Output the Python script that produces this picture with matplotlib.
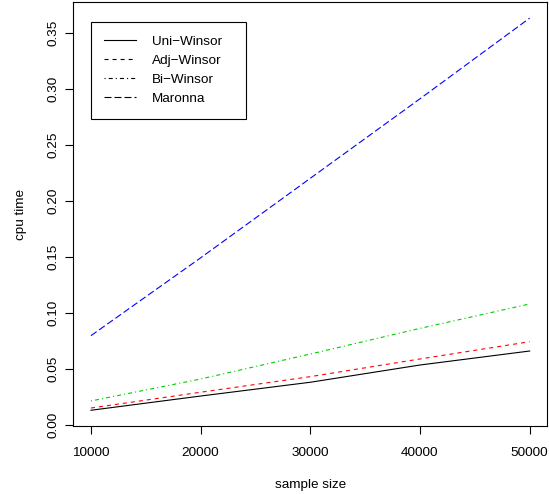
import matplotlib
matplotlib.use("Agg")
import matplotlib.pyplot as plt

plt.rcParams['font.family'] = ['Liberation Sans', 'DejaVu Sans']
plt.rcParams['lines.scale_dashes'] = False

sample_size = [10000, 20000, 30000, 40000, 50000]
uni_winsor = [0.0129, 0.0256, 0.0379, 0.0533, 0.0658]
adj_winsor = [0.0149, 0.0290, 0.0429, 0.0587, 0.0741]
bi_winsor = [0.0212, 0.0408, 0.0631, 0.0860, 0.1078]
maronna = [0.0795, 0.1490, 0.2200, 0.2910, 0.3630]

labels = ["Uni\u2212Winsor", "Adj\u2212Winsor", "Bi\u2212Winsor", "Maronna"]
yticks = [0.00, 0.05, 0.10, 0.15, 0.20, 0.25, 0.30, 0.35]
xticks = [10000, 20000, 30000, 40000, 50000]

fs = 9.7
fig = plt.figure(figsize=(5.49, 4.94), dpi=100)
ax = fig.add_axes([0.1337, 0.138, 0.9967 - 0.1337, 0.995 - 0.138])

ax.plot(sample_size, uni_winsor, color='black', lw=0.8, ls='-', label=labels[0])
ax.plot(sample_size, adj_winsor, color='#FF0000', lw=0.8, ls=(0, (2.9, 2.9)), label=labels[1])
ax.plot(sample_size, bi_winsor, color='#00CD00', lw=0.8, ls=(0, (0.8, 2.2, 2.9, 2.2)), label=labels[2])
ax.plot(sample_size, maronna, color='#0000FF', lw=0.8, ls=(0, (5.0, 2.2)), label=labels[3])

ax.set_xlim(8400, 51600)
ax.set_ylim(-0.001, 0.377)
ax.set_xticks(xticks)
ax.set_xticklabels([str(v) for v in xticks], fontsize=fs)
ax.set_yticks(yticks)
ax.set_yticklabels(["%.2f" % v for v in yticks], fontsize=fs, rotation=90, va='center')
ax.tick_params(direction='out', length=5.8, width=0.8, pad=4.0)
ax.tick_params(axis='x', pad=9.5)
for s in ax.spines.values():
    s.set_linewidth(0.8)

ax.set_xlabel("sample size", fontsize=fs, labelpad=14)
ax.set_ylabel("cpu time", fontsize=fs, labelpad=15)

leg_handles = [
    plt.Line2D([], [], color='black', lw=0.8, ls='-'),
    plt.Line2D([], [], color='black', lw=0.8, ls=(0, (2.9, 2.9))),
    plt.Line2D([], [], color='black', lw=0.8, ls=(0, (0.8, 2.2, 2.9, 2.2))),
    plt.Line2D([], [], color='black', lw=0.8, ls=(0, (5.0, 2.2))),
]
leg_w = (245.7 - 90.7) / 473.8
leg = ax.legend(leg_handles, labels, loc='upper left',
                bbox_to_anchor=(0.0365, 0.9547 - 0.3, leg_w, 0.3), mode='expand',
                borderaxespad=0, fontsize=fs, frameon=True, fancybox=False,
                edgecolor='black', framealpha=1, borderpad=1.0, labelspacing=0.5,
                handlelength=2.35, handletextpad=1.2)
leg.get_frame().set_linewidth(0.8)

fig.savefig("out.png", dpi=100)
